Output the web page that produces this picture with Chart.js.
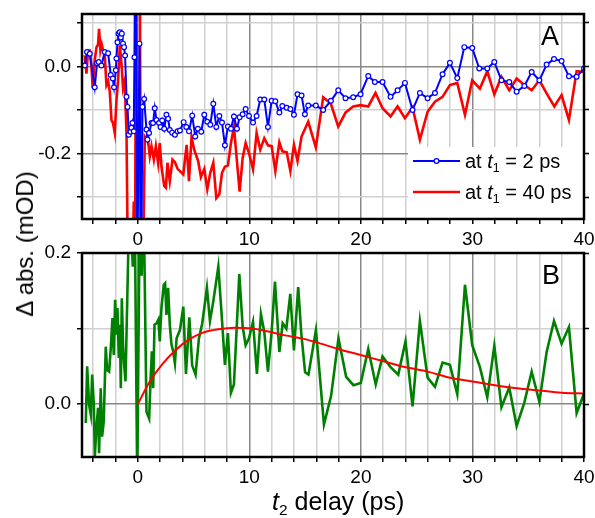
<!DOCTYPE html>
<html>
<head>
<meta charset="utf-8">
<script src="https://cdn.jsdelivr.net/npm/chart.js@4.4.1/dist/chart.umd.min.js"></script>
<style>
  body { margin: 0; background: #fff; width: 595px; height: 518px; position: relative; overflow: hidden;
         font-family: "Liberation Sans", Arial, sans-serif; color: #000; }
  canvas { position: absolute; left: 0; }
  #chartA { top: 0; }
  #chartB { top: 245px; }
  .txt { position: absolute; white-space: nowrap; line-height: 1; }
  .txt sub { font-size: 62%; vertical-align: -0.35em; line-height: 0; }
  #letterA, #letterB { font-size: 27px; }
  .leg { font-size: 20px; left: 465px; }
  #xTitle { font-size: 25px; left: 272px; top: 489px; }
  #yTitle { font-size: 24px; left: 25px; top: 243.5px; transform: translate(-50%, -50%) rotate(-90deg); }
</style>
</head>
<body>
<canvas id="chartA" width="595" height="250"></canvas>
<canvas id="chartB" width="595" height="273"></canvas>
<div class="txt" id="letterA" style="left:541px; top:23px;">A</div>
<div class="txt" id="letterB" style="left:542px; top:262px;">B</div>
<div class="txt leg" style="top:151px;">at <i>t</i><sub>1</sub> = 2 ps</div>
<div class="txt leg" style="top:181.5px;">at <i>t</i><sub>1</sub> = 40 ps</div>
<div class="txt" id="xTitle"><i>t</i><sub>2</sub> delay (ps)</div>
<div class="txt" id="yTitle">&Delta; abs. (mOD)</div>
<script>
// panel A : t1 = 2 ps (blue, markers)
const blueT = [-4.75, -4.55, -4.30, -3.86, -3.65, -3.50, -3.26, -2.96, -2.66, -2.42, -2.24, -2.13, -1.97, -1.91,
  -1.82, -1.73, -1.61, -1.52, -1.43, -1.32, -1.23, -1.14, -1.01, -0.92, -0.81, -0.65, -0.57, -0.48, -0.36, -0.30,
  -0.18, -0.05, 0.15, 0.30, 0.42, 0.57, 0.78, 0.87, 1.01, 1.23, 1.37, 1.52, 1.68, 1.91, 2.04, 2.19, 2.37, 2.57,
  2.72, 2.87, 3.08, 3.33, 3.57, 3.78, 4.11, 4.35, 4.59, 4.88, 5.15, 5.39, 5.69, 5.96, 6.23, 6.50, 6.77, 7.04,
  7.31, 7.55, 7.81, 8.08, 8.35, 8.62, 8.89, 9.13, 9.40, 9.67, 9.97, 10.33, 10.65, 10.98, 11.34, 11.67, 12.00,
  12.33, 12.69, 12.96, 13.35, 13.68, 14.00, 14.32, 14.68, 14.98, 15.28, 15.96, 16.62, 17.31, 17.97, 18.62,
  19.31, 19.97, 20.66, 21.25, 21.94, 22.66, 23.29, 23.95, 24.63, 25.29, 25.98, 26.64, 27.32, 27.98, 28.64,
  29.27, 29.98, 30.61, 31.33, 31.96, 32.60, 33.30, 33.96, 34.65, 35.31, 36.00, 36.65, 37.31, 37.99, 38.65,
  39.34, 40.00];
const blueV = [0.002, 0.033, 0.029, -0.048, 0.007, 0.010, 0.002, 0.033, 0.030, -0.020, -0.028, -0.048, -0.009, 0.018,
  0.055, 0.075, 0.078, 0.066, 0.075, 0.052, 0.044, 0.025, -0.070, -0.093, -0.157, -0.150, -0.141, -0.130, -0.149, 0.021,
  0.5, -0.5, 0.052, -0.5, -0.093, -0.075, -0.145, -0.168, -0.153, -0.130, -0.130, -0.096, -0.123, -0.130, -0.139, -0.124, -0.143, -0.111,
  -0.120, -0.146, -0.152, -0.157, -0.149, -0.147, -0.128, -0.139, -0.149, -0.113, -0.161, -0.143, -0.150, -0.111, -0.127, -0.134, -0.086, -0.139,
  -0.114, -0.129, -0.181, -0.138, -0.143, -0.115, -0.143, -0.117, -0.110, -0.098, -0.114, -0.129, -0.114, -0.076, -0.076, -0.139, -0.079,
  -0.080, -0.106, -0.091, -0.095, -0.098, -0.111, -0.064, -0.067, -0.110, -0.090, -0.090, -0.100, -0.079, -0.055, -0.073,
  -0.071, -0.064, -0.022, -0.036, -0.036, -0.070, -0.055, -0.038, -0.100, -0.061, -0.073, -0.061, -0.018, 0.008, -0.027,
  0.044, 0.042, -0.005, -0.005, 0.010, -0.032, -0.036, -0.058, -0.045, -0.013, -0.032, 0.004, 0.017, 0.012, -0.023,
  -0.024, -0.005];

// panel A : t1 = 40 ps (red)
const redT = [-4.75, -4.60, -4.46, -4.30, -4.15, -4.04, -3.86, -3.70, -3.56, -3.47, -3.35, -3.23, -3.11, -2.96,
  -2.81, -2.66, -2.51, -2.36, -2.22, -2.06, -1.91, -1.77, -1.61, -1.46, -1.32, -1.17, -1.01, -0.87, -0.50, -0.36,
  -0.25, -0.12, 0.15, 0.28, 0.45, 0.63, 0.93, 1.08, 1.23, 1.44, 1.62, 1.82, 1.97, 2.12, 2.37, 2.52, 2.66, 2.87,
  3.11, 3.33, 3.57, 4.08, 4.38, 4.59, 4.82, 5.06, 5.42, 5.66, 5.96, 6.23, 6.50, 6.77, 7.04, 7.31, 7.55, 7.81,
  8.08, 8.35, 8.62, 8.89, 9.13, 9.40, 9.67, 9.97, 10.33, 10.65, 10.98, 11.34, 11.67, 12.00, 12.33, 12.69, 12.96,
  13.35, 13.68, 14.00, 14.32, 14.68, 15.28, 15.96, 16.62, 17.31, 17.97, 18.62, 19.31, 19.97, 20.66, 21.31, 21.94,
  22.66, 23.29, 23.95, 24.63, 25.29, 25.98, 26.64, 27.32, 27.98, 28.64, 29.33, 29.98, 30.67, 31.33, 31.96, 32.60,
  33.30, 33.96, 34.65, 35.31, 36.00, 36.65, 37.34, 37.99, 38.65, 39.34, 40.00];
const redV = [0.025, -0.017, 0.036, 0.036, -0.002, -0.050, 0.014, 0.044, 0.050, 0.086, 0.036, 0.050, 0.036, 0.025,
  -0.043, -0.034, -0.058, -0.123, -0.130, -0.153, -0.077, -0.034, 0.048, 0.005, -0.050, -0.034, -0.153, -0.5, -0.5, -0.31,
  -0.5, 0.5, 0.5, -0.5, -0.5, -0.161, -0.172, -0.206, -0.183, -0.214, -0.183, -0.221, -0.176, -0.229, -0.274, -0.278, -0.221, -0.263,
  -0.214, -0.220, -0.235, -0.248, -0.180, -0.263, -0.162, -0.191, -0.218, -0.254, -0.235, -0.282, -0.244, -0.221, -0.302, -0.293, -0.244, -0.230,
  -0.227, -0.176, -0.139, -0.218, -0.287, -0.210, -0.176, -0.199, -0.236, -0.153, -0.191, -0.165, -0.181, -0.183, -0.240, -0.174, -0.195,
  -0.197, -0.240, -0.180, -0.217, -0.161, -0.127, -0.186, -0.071, -0.086, -0.138, -0.106, -0.092, -0.089, -0.092, -0.061, -0.096,
  -0.115, -0.092, -0.119, -0.094, -0.168, -0.104, -0.081, -0.070, -0.043, -0.038, -0.111, -0.032, -0.051, -0.011, -0.064, -0.024,
  -0.055, -0.028, -0.043, -0.055, -0.032, -0.062, -0.092, -0.066, -0.123, -0.011, -0.013];

// panel B : difference signal (green) and fit (red)
const greenT = [-4.66, -4.54, -4.36, -4.21, -4.09, -3.94, -3.85, -3.71, -3.56, -3.47, -3.32, -3.20, -3.05, -2.87,
  -2.75, -2.57, -2.42, -2.27, -2.15, -2.03, -1.91, -1.82, -1.70, -1.61, -1.52, -1.43, -1.31, -1.22, -1.10, -0.87,
  -0.72, -0.45, -0.30, -0.05, 0.20, 0.35, 0.50, 0.78, 1.02, 1.14, 1.26, 1.38, 1.50, 1.68, 1.85, 1.97, 2.12, 2.33,
  2.45, 2.57, 2.72, 2.87, 3.02, 3.17, 3.33, 3.48, 3.78, 4.08, 4.32, 4.62, 4.88, 5.18, 5.48, 5.78, 6.20, 6.47,
  6.77, 7.22, 7.52, 7.81, 8.08, 8.35, 8.62, 9.10, 9.40, 9.67, 9.97, 10.33, 10.68, 11.04, 11.34, 11.67, 12.00,
  12.30, 12.69, 12.99, 13.32, 13.67, 14.00, 14.38, 14.66, 15.00, 15.30, 15.97, 16.69, 17.33, 17.99, 18.68, 19.33,
  19.99, 20.66, 21.33, 21.94, 22.66, 23.35, 24.00, 24.63, 25.29, 25.98, 26.64, 27.32, 27.98, 28.64, 29.33, 29.98,
  30.67, 31.33, 31.96, 32.60, 33.30, 33.96, 34.65, 35.31, 36.00, 36.65, 37.31, 37.99, 38.65, 39.34, 40.00];
const greenV = [-0.025, 0.050, -0.001, -0.014, 0.039, -0.001, -0.069, -0.032, -0.005, -0.065, 0.021, -0.043, -0.023, 0.076,
  0.045, 0.043, 0.074, 0.114, 0.065, 0.138, 0.092, 0.127, 0.061, 0.105, 0.021, 0.140, 0.074, 0.052, 0.030, 0.189,
  0.3, 0.182, 0.3, -0.1, 0.3, 0.17, 0.3, -0.010, -0.019, 0.030, 0.070, 0.021, 0.105, 0.107, 0.112, 0.083, 0.127, 0.158,
  0.160, 0.118, 0.154, 0.105, 0.079, 0.070, 0.054, 0.087, 0.098, 0.129, 0.040, 0.115, 0.051, 0.039, 0.087, 0.107, 0.154, 0.110,
  0.136, 0.182, 0.118, 0.052, 0.094, 0.015, 0.026, 0.172, 0.103, 0.078, 0.087, 0.109, 0.040, 0.119, 0.096, 0.043, 0.096,
  0.162, 0.069, 0.107, 0.100, 0.146, 0.071, 0.155, 0.093, 0.042, 0.039, 0.098, -0.027, 0.011, 0.087, 0.036, 0.025,
  0.028, 0.073, 0.026, 0.063, 0.049, 0.039, 0.083, -0.003, 0.110, 0.035, 0.023, 0.055, 0.052, 0.013, 0.158, 0.078,
  0.049, 0.009, 0.077, -0.004, 0.022, -0.029, 0.002, 0.043, 0.003, 0.069, 0.110, 0.080, 0.102, -0.012, 0.014];
const fitT = [0, 1.08, 2.15, 3.35, 4.54, 5.74, 7.23, 8.72, 10.22, 11.71, 13.2, 14.7, 15.96, 17.97, 19.97, 21.94,
  23.95, 25.98, 27.98, 30.0, 32.0, 33.96, 36.0, 37.99, 40.0];
const fitV = [0, 0.030, 0.052, 0.071, 0.085, 0.094, 0.099, 0.101, 0.100, 0.096, 0.091, 0.087, 0.082, 0.073, 0.065, 0.057,
  0.049, 0.043, 0.035, 0.030, 0.025, 0.021, 0.018, 0.015, 0.014];

const xMin = -5, xMax = 40;
const yRangeA = [-0.35, 0.12];
const yRangeB = [-0.07, 0.2];

const tickFont = { family: '"Liberation Sans", Arial, sans-serif', size: 19 };
const darkGrid = '#888888', lightGrid = '#d0d0d0';

function pts(t, v) {
  return t.map((x, i) => ({ x: x, y: v[i] }));
}

function tenth(v) { return Math.round(v * 10); }

// frame round the plot area, drawn over the data
const framePlugin = {
  id: 'frame',
  afterDatasetsDraw(chart) {
    const a = chart.chartArea, c = chart.ctx;
    c.save();
    c.strokeStyle = '#000';
    c.lineWidth = 2.5;
    c.strokeRect(a.left, a.top, a.right - a.left, a.bottom - a.top);
    c.restore();
  }
};

// legend box of panel A (texts are html)
const legendPlugin = {
  id: 'legendBox',
  beforeDatasetsDraw(chart) {
    const a = chart.chartArea, c = chart.ctx;
    c.save();
    c.fillStyle = '#fff';
    c.fillRect(a.right - 176, a.bottom - 72, 176, 72);
    c.restore();
  },
  afterDraw(chart) {
    const a = chart.chartArea, c = chart.ctx;
    const x0 = a.right - 171, x1 = a.right - 124, y0 = a.bottom - 58, y1 = a.bottom - 27;
    c.save();
    c.lineWidth = 2.2; c.strokeStyle = '#0000ff';
    c.beginPath(); c.moveTo(x0, y0); c.lineTo(x1, y0); c.stroke();
    c.beginPath(); c.arc((x0 + x1) / 2, y0, 2.4, 0, Math.PI * 2);
    c.fillStyle = '#fff'; c.fill(); c.lineWidth = 1.3; c.stroke();
    c.lineWidth = 2.6; c.strokeStyle = '#ff0000';
    c.beginPath(); c.moveTo(x0, y1); c.lineTo(x1, y1); c.stroke();
    c.restore();
  }
};

function xAxis(height) {
  return {
    type: 'linear', min: xMin, max: xMax,
    ticks: {
      stepSize: 2, includeBounds: false, autoSkip: false, maxRotation: 0, padding: 4,
      color: '#000', font: tickFont,
      callback: v => (Math.round(v) % 10 === 0 ? String(Math.round(v)) : '')
    },
    grid: {
      color: c => (c.tick && Math.round(c.tick.value) % 10 === 0 ? darkGrid : lightGrid),
      lineWidth: 1.5, tickLength: 5, tickColor: '#000', tickWidth: 1.5
    },
    border: { display: false },
    afterFit: s => { s.height = height; s.paddingLeft = 0; s.paddingRight = 0; }
  };
}

function yAxis(range) {
  return {
    type: 'linear', min: range[0], max: range[1],
    ticks: {
      stepSize: 0.1, includeBounds: false, autoSkip: false, padding: 6,
      color: '#000', font: tickFont,
      callback: v => (tenth(v) % 2 === 0 ? (tenth(v) / 10).toFixed(1) : '')
    },
    grid: {
      color: c => (c.tick && tenth(c.tick.value) % 2 === 0 ? darkGrid : lightGrid),
      lineWidth: 1.5, tickLength: 5, tickColor: '#000', tickWidth: 1.5
    },
    border: { display: false },
    afterFit: s => { s.width = 82; s.paddingTop = 0; s.paddingBottom = 0; }
  };
}

function yRight(range) {
  return {
    type: 'linear', position: 'right', min: range[0], max: range[1],
    ticks: { stepSize: 0.1, includeBounds: false, autoSkip: false, callback: () => '' },
    grid: { drawOnChartArea: false, tickLength: 5, tickColor: '#000', tickWidth: 1.5 },
    border: { display: false },
    afterFit: s => { s.width = 11; s.paddingTop = 0; s.paddingBottom = 0; }
  };
}

const common = {
  responsive: false, animation: false, events: [],
  plugins: { legend: { display: false }, tooltip: { enabled: false } }
};

new Chart(document.getElementById('chartA').getContext('2d'), {
  type: 'line',
  data: {
    datasets: [
      { data: pts(blueT, blueV), borderColor: '#0000ff', borderWidth: 2, pointRadius: 2.4,
        pointBackgroundColor: '#fff', pointBorderColor: '#0000ff', pointBorderWidth: 1.2, tension: 0, clip: 0 },
      { data: pts(redT, redV), borderColor: '#ff0000', borderWidth: 2.6, pointRadius: 0, tension: 0, clip: 0 }
    ]
  },
  options: Object.assign({}, common, {
    layout: { padding: { top: 14, left: 0, right: 0, bottom: 0 } },
    scales: { x: xAxis(31), y: yAxis(yRangeA), y2: yRight(yRangeA) }
  }),
  plugins: [legendPlugin, framePlugin]
});

new Chart(document.getElementById('chartB').getContext('2d'), {
  type: 'line',
  data: {
    datasets: [
      { data: pts(fitT, fitV), borderColor: '#ff0000', borderWidth: 2, pointRadius: 0,
        cubicInterpolationMode: 'monotone', clip: 0 },
      { data: pts(greenT, greenV), borderColor: '#008000', borderWidth: 2.6, pointRadius: 0, tension: 0, clip: 0 }
    ]
  },
  options: Object.assign({}, common, {
    layout: { padding: { top: 8, left: 0, right: 0, bottom: 0 } },
    scales: { x: xAxis(61), y: yAxis(yRangeB), y2: yRight(yRangeB) }
  }),
  plugins: [framePlugin]
});
</script>
</body>
</html>
